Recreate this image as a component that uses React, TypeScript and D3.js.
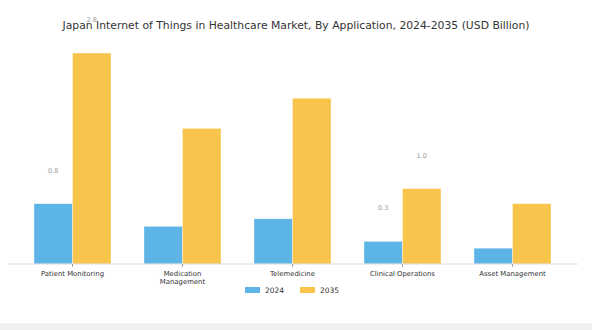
import React from "react";
import * as d3 from "d3";

const categories = [
  ["Patient Monitoring"],
  ["Medication", "Management"],
  ["Telemedicine"],
  ["Clinical Operations"],
  ["Asset Management"],
];
const seriesNames = ["2024", "2035"];
const values2024 = [0.8, 0.5, 0.6, 0.3, 0.21];
const values2035 = [2.8, 1.8, 2.2, 1.0, 0.8];
// which bars show a value label (index per series)
const labeled2024 = [true, false, false, true, false];
const labeled2035 = [true, false, false, true, false];
const colors = ["#5DB4E6", "#F8C44C"];

const W = 592;
const H = 330;

export default function App() {
  const x0 = d3
    .scaleBand<number>()
    .domain(d3.range(categories.length))
    .range([17.5, 567.5])
    .paddingInner(0.3)
    .paddingOuter(0.15);
  const x1 = d3.scaleBand<string>().domain(seriesNames).range([0, x0.bandwidth()]);
  const y = d3.scaleLinear().domain([0, 2.8]).range([264, 53]);
  const series = [values2024, values2035];
  const labeled = [labeled2024, labeled2035];
  const fmt = d3.format(".1f");

  return (
    <svg
      width={W}
      height={H}
      style={{ position: "absolute", left: 0, top: 0, background: "#fff" }}
      fontFamily="DejaVu Sans, sans-serif"
    >
      <rect x={0} y={323} width={W} height={H - 323} fill="#f0f0f0" />
      {series.map((vals, s) =>
        vals.map((v, i) => (
          <rect
            key={`b${s}-${i}`}
            x={(x0(i) as number) + (x1(seriesNames[s]) as number)}
            y={y(v)}
            width={x1.bandwidth()}
            height={y(0) - y(v)}
            fill={colors[s]}
            stroke="#ffffff"
            strokeOpacity={0.6}
            strokeWidth={0.6}
          />
        ))
      )}
      <text
        x={296}
        y={29}
        textAnchor="middle"
        fontSize={10.8}
        fill="#333"
      >
        Japan Internet of Things in Healthcare Market, By Application, 2024-2035 (USD Billion)
      </text>
      {series.map((vals, s) =>
        vals.map((v, i) =>
          labeled[s][i] ? (
            <text
              key={`l${s}-${i}`}
              x={(x0(i) as number) + (x1(seriesNames[s]) as number) + x1.bandwidth() / 2}
              y={y(v) - 31}
              textAnchor="middle"
              fontSize={6.5}
              fill="#999999"
            >
              {fmt(v)}
            </text>
          ) : null
        )
      )}
      <line x1={8} x2={578} y1={y(0)} y2={y(0)} stroke="#dddddd" strokeWidth={1} />
      {categories.map((c, i) => {
        const cx = (x0(i) as number) + x0.bandwidth() / 2;
        return (
          <g key={`c${i}`}>
            <line x1={cx} x2={cx} y1={y(0)} y2={y(0) + 3} stroke="#666" strokeWidth={0.6} />
            {c.map((line, k) => (
              <text
                key={k}
                x={cx}
                y={275.5 + k * 8.8}
                textAnchor="middle"
                fontSize={6.9}
                fill="#333"
              >
                {line}
              </text>
            ))}
          </g>
        );
      })}
      {seriesNames.map((n, s) => (
        <g key={`lg${s}`} transform={`translate(${245 + s * 55},0)`}>
          <rect x={0} y={287} width={15} height={6} fill={colors[s]} />
          <text x={20} y={293} fontSize={7.5} fill="#333">
            {n}
          </text>
        </g>
      ))}
    </svg>
  );
}
